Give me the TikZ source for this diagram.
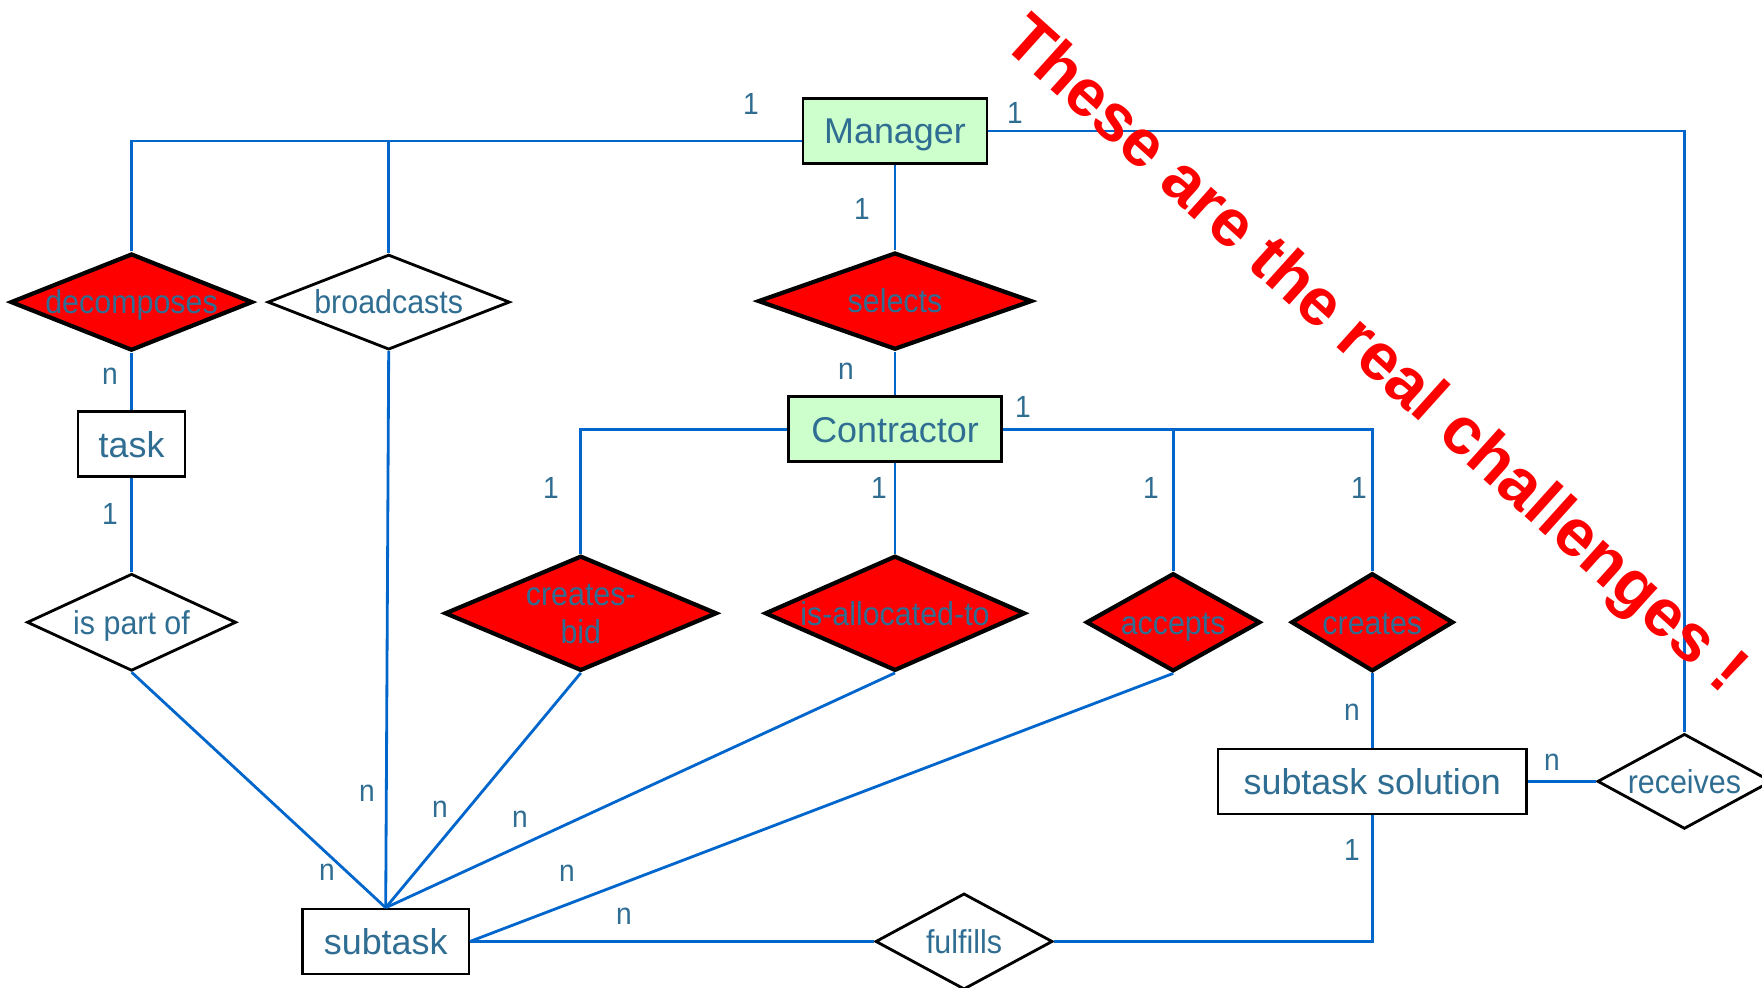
\documentclass[tikz,border=0pt]{standalone}
\usepackage{fontspec}
\setmainfont{Liberation Sans}
\newfontfamily\narrowfont[FakeStretch=0.92]{Liberation Sans}
\usepackage{tikz}
\usetikzlibrary{positioning}
\usetikzlibrary{shapes.geometric}

\definecolor{erblue}{RGB}{0,102,204}
\definecolor{ertext}{RGB}{47,110,146}
\definecolor{ergreen}{RGB}{204,255,204}

\tikzset{
  entity/.style={draw=black, line width=0.7pt, fill=white, text=ertext,
    font=\fontsize{10.2}{12}\selectfont, minimum height=0.65cm, inner sep=0pt,
    text height=9.3pt, text depth=2pt},
  agent/.style={entity, fill=ergreen},
  reltext/.style={text=ertext, font=\narrowfont\fontsize{9.4}{10.8}\selectfont,
    inner sep=0pt, text height=8.7pt, text depth=2pt},
  rel/.style={diamond, draw=black, line width=0.8pt, fill=white, inner sep=0pt,
    label={[reltext]center:#1}},
  hardrel/.style={rel=#1, fill=red, line width=1.2pt},
  card/.style={text=ertext, font=\narrowfont\fontsize{8.7}{10}\selectfont, inner sep=0pt},
  link/.style={draw=erblue, line width=0.8pt},
  challenge/.style={text=red, font=\bfseries\fontsize{19}{22}\selectfont, inner sep=0pt},
}

\begin{document}
\begin{tikzpicture}[x=0.01cm, y=-0.01cm, on grid]
        \useasboundingbox (0,0) rectangle (1762,988);
        % Nodes
        \node[agent, minimum width=1.84cm] (mgr) at (895,131) {Manager};
        \node[hardrel=selects, minimum width=2.74cm, minimum height=0.97cm, below=1.70cm of mgr] (sel) {};
        \node[agent, minimum width=2.13cm, below=1.28cm of sel] (con) {Contractor};
        \node[hardrel=is-allocated-to, minimum width=2.60cm, minimum height=1.15cm, below=1.84cm of con] (alloc) {};
        \node[hardrel={\begin{tabular}{@{}c@{}}creates-\\bid\end{tabular}}, minimum width=2.72cm, minimum height=1.15cm, left=3.14cm of alloc] (bid) {};
        \node[hardrel=accepts, minimum width=1.74cm, minimum height=0.98cm, right=2.78cm of alloc, yshift=-0.09cm] (acc) {};
        \node[hardrel=creates, minimum width=1.62cm, minimum height=0.98cm, right=1.99cm of acc] (cre) {};
        \node[entity, minimum width=3.08cm, below=1.59cm of cre] (sol) {subtask solution};
        \node[rel=receives, minimum width=1.74cm, minimum height=0.95cm, right=3.12cm of sol] (rec) {};
        \node[rel=fulfills, minimum width=1.77cm, minimum height=0.96cm, below left=1.60cm and 4.08cm of sol] (ful) {};
        \node[entity, minimum width=1.66cm, left=5.78cm of ful] (sub) {subtask};
        \node[rel=broadcasts, minimum width=2.42cm, minimum height=0.95cm, above=6.39cm of sub, xshift=0.03cm] (brd) {};
        \node[hardrel=decomposes, minimum width=2.42cm, minimum height=0.97cm, left=2.57cm of brd] (dec) {};
        \node[entity, minimum width=1.07cm, below=1.42cm of dec] (task) {task};
        \node[rel={is part of}, minimum width=2.09cm, minimum height=0.97cm, below=1.78cm of task] (part) {};
        % Links
        \coordinate (mtop) at ([yshift=-0.1cm]mgr.west);
        \draw[link] (mtop) -| (dec.north);
        \draw[link] (brd.north) |- (mtop);
        \draw[link] (mgr.east) -| (rec.north);
        \draw[link] (mgr.south) -- (sel.north);
        \draw[link] (sel.south) -- (con.north);
        \draw[link] (con.west) -| (bid.north);
        \draw[link] (con.south) -- (alloc.north);
        \draw[link] (con.east) -| (cre.north);
        \draw[link] (acc.north) |- (con.east);
        \draw[link] (dec.south) -- (task.north);
        \draw[link] (task.south) -- (part.north);
        \foreach \r in {part, brd, bid, alloc}
          \draw[link] (\r.south) -- (sub.north);
        \draw[link] (acc.south) -- (sub.east);
        \draw[link] (sub.east) -- (ful.west);
        \draw[link] (ful.east) -| (sol.south);
        \draw[link] (cre.south) -- (sol.north);
        \draw[link] (sol.east) -- (rec.west);
        % Cardinalities
        \node[card] (c1) at (751,104) {1};
        \node[card] (c2) at (1015,113) {1};
        \node[card] (c3) at (862,209) {1};
        \node[card] (c4) at (846,371) {n};
        \node[card] (c5) at (1023,407) {1};
        \node[card] (c6) at (551,488) {1};
        \node[card] (c7) at (879,488) {1};
        \node[card] (c8) at (1151,488) {1};
        \node[card] (c9) at (1359,488) {1};
        \node[card] (c10) at (110,376) {n};
        \node[card] (c11) at (110,514) {1};
        \node[card] (c12) at (1352,712) {n};
        \node[card] (c13) at (1352,850) {1};
        \node[card] (c14) at (1552,762) {n};
        \node[card] (c15) at (327,872) {n};
        \node[card] (c16) at (367,793) {n};
        \node[card] (c17) at (440,809) {n};
        \node[card] (c18) at (520,819) {n};
        \node[card] (c19) at (567,873) {n};
        \node[card] (c20) at (624,916) {n};
        % Remark
        \node[challenge, rotate=-42] (note) at (1373,357) {These are the real challenges !};
    \end{tikzpicture}
\end{document}
